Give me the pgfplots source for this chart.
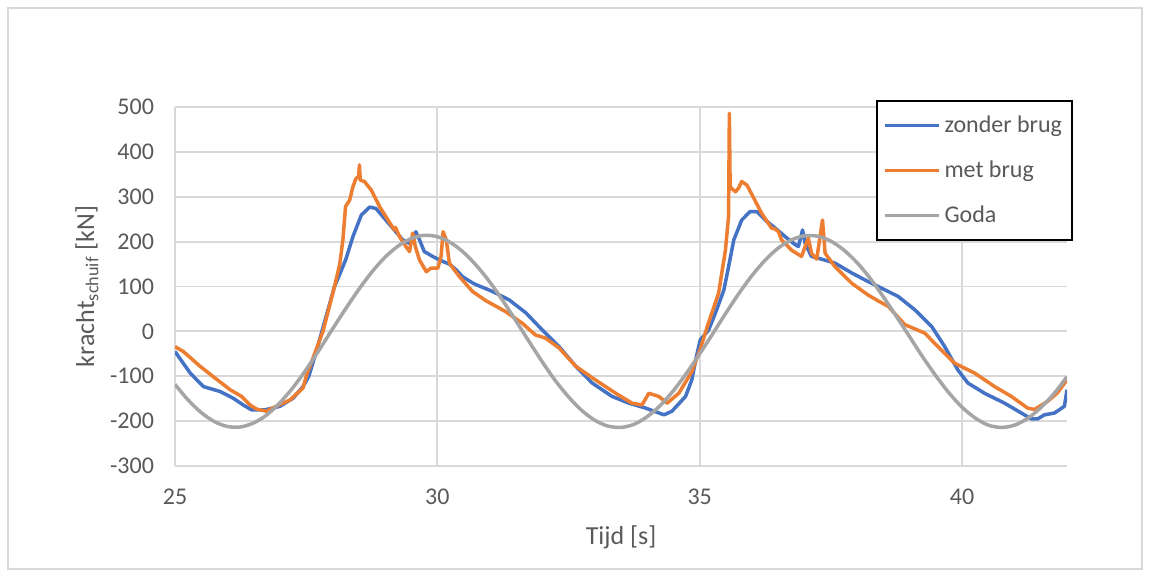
\documentclass[border=0pt]{standalone}
\usepackage{fontspec}
\setmainfont{Carlito}
\usepackage{pgfplots}
\pgfplotsset{compat=1.18}
\definecolor{zonder}{HTML}{4472C4}
\definecolor{met}{HTML}{ED7D31}
\definecolor{goda}{HTML}{A5A5A5}
\definecolor{gridc}{HTML}{D9D9D9}
\definecolor{txt}{HTML}{595959}

\begin{document}
\begin{tikzpicture}
% page frame, 1px = 0.5pt
\path (0pt,0pt) rectangle (575pt,288.5pt);
\draw[gridc, line width=0.6pt] (4pt,4pt) rectangle (571pt,284.5pt);
\begin{axis}[
    at={(87.5pt,55.5pt)}, anchor=south west,
    scale only axis,
    width=446pt, height=179.5pt,
    xmin=25, xmax=42, ymin=-300, ymax=500,
    xtick={25,30,35,40},
    ytick={-300,-200,...,500},
    grid=major,
    grid style={gridc, line width=0.9pt},
    axis line style={draw=none},
    major tick length=0pt,
    /pgf/number format/assume math mode=true,
    ticklabel style={font=\fontsize{12}{14}\selectfont, text=txt},
    yticklabel style={xshift=-7pt},
    xticklabel style={yshift=-8pt},
    xlabel={Tijd [s]},
    ylabel={kracht\textsubscript{schuif} [kN]},
    xlabel style={at={(axis description cs:0.5,-0.198)}, anchor=center,
        font=\fontsize{13}{15}\selectfont, text=txt},
    ylabel style={at={(axis description cs:-0.0987,0.5)}, anchor=center,
        font=\fontsize{13}{15}\selectfont, text=txt},
    legend cell align=left,
    legend style={at={(1.0067,1.0195)}, anchor=north east,
        draw=black, line width=1pt, fill=white,
        font=\fontsize{12}{14}\selectfont, text=txt,
        inner xsep=3pt, inner ysep=5.5pt, row sep=8.5pt},
    legend image code/.code={\draw[#1, line width=1.6pt] (0pt,0pt) -- (27pt,0pt);},
    every axis plot/.append style={line width=1.75pt, line join=round},
]

\addplot[zonder] coordinates {
(25.00,-45) (25.29,-93) (25.54,-123) (25.86,-134) (26.11,-149) (26.30,-164)
(26.46,-175) (26.71,-175) (27.00,-167) (27.25,-149) (27.44,-123) (27.55,-100)
(27.68,-50) (27.80,0) (27.92,50) (28.04,100) (28.15,130) (28.26,162)
(28.39,211) (28.55,259) (28.71,277) (28.83,274) (28.99,252) (29.15,230)
(29.34,204) (29.47,196) (29.53,200) (29.59,222) (29.66,204) (29.75,178)
(29.91,167) (30.10,156) (30.23,150) (30.36,137) (30.48,122) (30.67,108)
(30.74,104) (31.05,89) (31.37,70) (31.69,41) (32.00,3) (32.32,-34)
(32.64,-78) (32.95,-115) (33.33,-145) (33.65,-160) (33.97,-171) (34.32,-186)
(34.47,-178) (34.73,-145) (34.85,-108) (34.93,-60) (35.01,-19) (35.17,3)
(35.30,41) (35.46,92) (35.55,144) (35.65,204) (35.80,248) (35.96,267)
(36.09,267) (36.25,248) (36.44,230) (36.63,211) (36.79,196) (36.88,189)
(36.96,226) (37.01,196) (37.13,167) (37.32,161) (37.58,152) (37.90,130)
(38.21,111) (38.40,100) (38.78,78) (39.10,48) (39.42,11) (39.67,-34)
(39.92,-86) (40.11,-115) (40.43,-138) (40.81,-160) (41.13,-182) (41.32,-195)
(41.44,-195) (41.57,-186) (41.76,-182) (41.95,-167) (42.00,-130)
};

\addplot[met] coordinates {
(25.00,-34) (25.16,-45) (25.48,-78) (25.73,-101) (26.05,-130) (26.27,-145)
(26.43,-164) (26.55,-173) (26.74,-178) (26.93,-167) (27.19,-153) (27.44,-126)
(27.50,-100) (27.66,-50) (27.82,0) (27.93,50) (28.04,100) (28.14,150)
(28.20,204) (28.25,278) (28.33,293) (28.39,322) (28.45,341) (28.50,345)
(28.515,371) (28.53,337) (28.61,334) (28.74,315) (28.90,278) (29.06,248)
(29.18,226) (29.20,232) (29.28,211) (29.40,189) (29.47,178) (29.53,219)
(29.58,189) (29.66,159) (29.79,133) (29.88,141) (30.01,141) (30.07,167)
(30.11,222) (30.17,204) (30.23,152) (30.42,122) (30.67,89) (30.93,68)
(31.18,52) (31.30,44) (31.62,18) (31.87,-8) (32.06,-15) (32.32,-37)
(32.64,-78) (33.01,-108) (33.40,-138) (33.71,-160) (33.90,-164) (34.03,-138)
(34.22,-145) (34.38,-160) (34.60,-138) (34.85,-90) (35.01,-40) (35.17,20)
(35.36,85) (35.49,181) (35.55,256) (35.565,486) (35.58,322) (35.68,311)
(35.74,319) (35.80,334) (35.90,326) (36.03,297) (36.18,263) (36.37,230)
(36.44,228) (36.50,222) (36.56,204) (36.75,181) (36.94,167) (37.07,208)
(37.13,174) (37.23,161) (37.34,248) (37.39,174) (37.58,144) (37.90,107)
(38.21,81) (38.40,68) (38.59,56) (38.91,15) (39.29,-4) (39.54,-34)
(39.86,-71) (40.24,-93) (40.62,-123) (40.94,-145) (41.25,-171) (41.38,-174)
(41.63,-156) (41.81,-138) (42.00,-108)
};

\addplot[goda, smooth] coordinates {
(25.00,-118) (25.25,-153) (25.50,-181) (25.75,-201) (26.00,-212) (26.25,-213)
(26.50,-204) (26.75,-186) (27.00,-159) (27.25,-125) (27.50,-85) (27.75,-41)
(28.00,5) (28.25,50) (28.50,93) (28.75,132) (29.00,165) (29.25,190)
(29.50,207) (29.75,214) (30.00,211) (30.25,198) (30.50,176) (30.75,146)
(31.00,110) (31.25,68) (31.50,23) (31.75,-23) (32.00,-68) (32.25,-110)
(32.50,-146) (32.75,-176) (33.00,-198) (33.25,-211) (33.50,-214) (33.75,-207)
(34.00,-190) (34.25,-165) (34.50,-132) (34.75,-93) (35.00,-50) (35.25,-5)
(35.50,41) (35.75,85) (36.00,125) (36.25,159) (36.50,186) (36.75,204)
(37.00,213) (37.25,212) (37.50,201) (37.75,181) (38.00,153) (38.25,118)
(38.50,77) (38.75,33) (39.00,-12) (39.25,-57) (39.50,-99) (39.75,-137)
(40.00,-169) (40.25,-193) (40.50,-209) (40.75,-214) (41.00,-209) (41.25,-194)
(41.50,-170) (41.75,-139) (42.00,-101)
};

\legend{zonder brug, met brug, Goda}
\end{axis}
\end{tikzpicture}
\end{document}
